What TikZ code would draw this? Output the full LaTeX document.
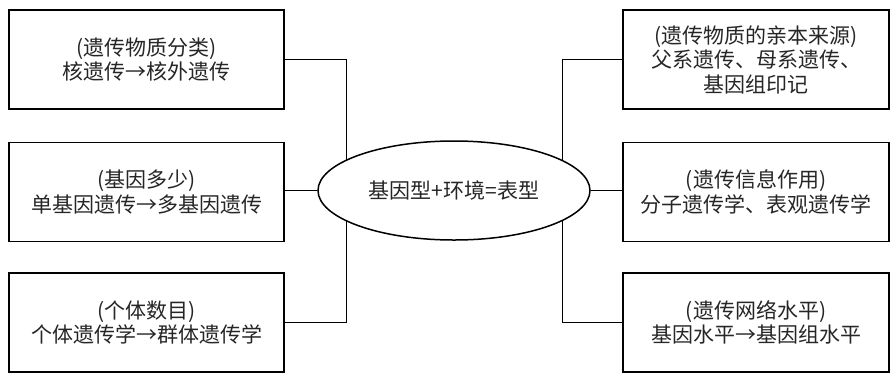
\documentclass[tikz,border=0pt]{standalone}
\usepackage{fontspec}
\setmainfont{Noto Sans CJK SC}
\usetikzlibrary{shapes.geometric,backgrounds}
\tikzset{
  infobox/.style={draw, line width=1.8pt, minimum height=99pt, inner sep=0pt, align=center,
    font=\fontsize{21}{24.5}\selectfont, text=black!85},
  leftbox/.style={infobox, minimum width=275pt},
  rightbox/.style={infobox, minimum width=266pt},
  conn/.style={draw, line width=0.9pt},
}
\begin{document}
\begin{tikzpicture}[x=1pt,y=-1pt]
\useasboundingbox (0,0) rectangle (891,373);
\node[leftbox] (lt) at (146.5,59.5) {(遗传物质分类)\\核遗传→核外遗传};
\node[leftbox] (lm) at (146.5,192) {(基因多少)\\单基因遗传→多基因遗传};
\node[leftbox] (lb) at (146.5,322.5) {(个体数目)\\个体遗传学→群体遗传学};
\node[rightbox] (rt) at (756,59.5) {(遗传物质的亲本来源)\\父系遗传、母系遗传、\\基因组印记};
\node[rightbox] (rm) at (756,192) {(遗传信息作用)\\分子遗传学、表观遗传学};
\node[rightbox] (rb) at (756,322.5) {(遗传网络水平)\\基因水平→基因组水平};
\node[ellipse, draw, fill=white, line width=1.5pt, minimum width=272pt, minimum height=99pt, inner sep=0pt,
  font=\fontsize{21}{24.5}\selectfont, text=black!85] (ell) at (454,190.5) {基因型+环境=表型};
\coordinate (jl) at (346,190.5);
\coordinate (jr) at (562,190.5);
\begin{scope}[on background layer]
\draw[conn] (lt.east) -| (jl);
\draw[conn] (lb.east) -| (jl);
\draw[conn] (rt.west) -| (jr);
\draw[conn] (rb.west) -| (jr);
\end{scope}
\draw[conn] (lm.east |- ell.west) -- (ell.west);
\draw[conn] (ell.east) -- (rm.west |- ell.east);
\end{tikzpicture}
\end{document}
